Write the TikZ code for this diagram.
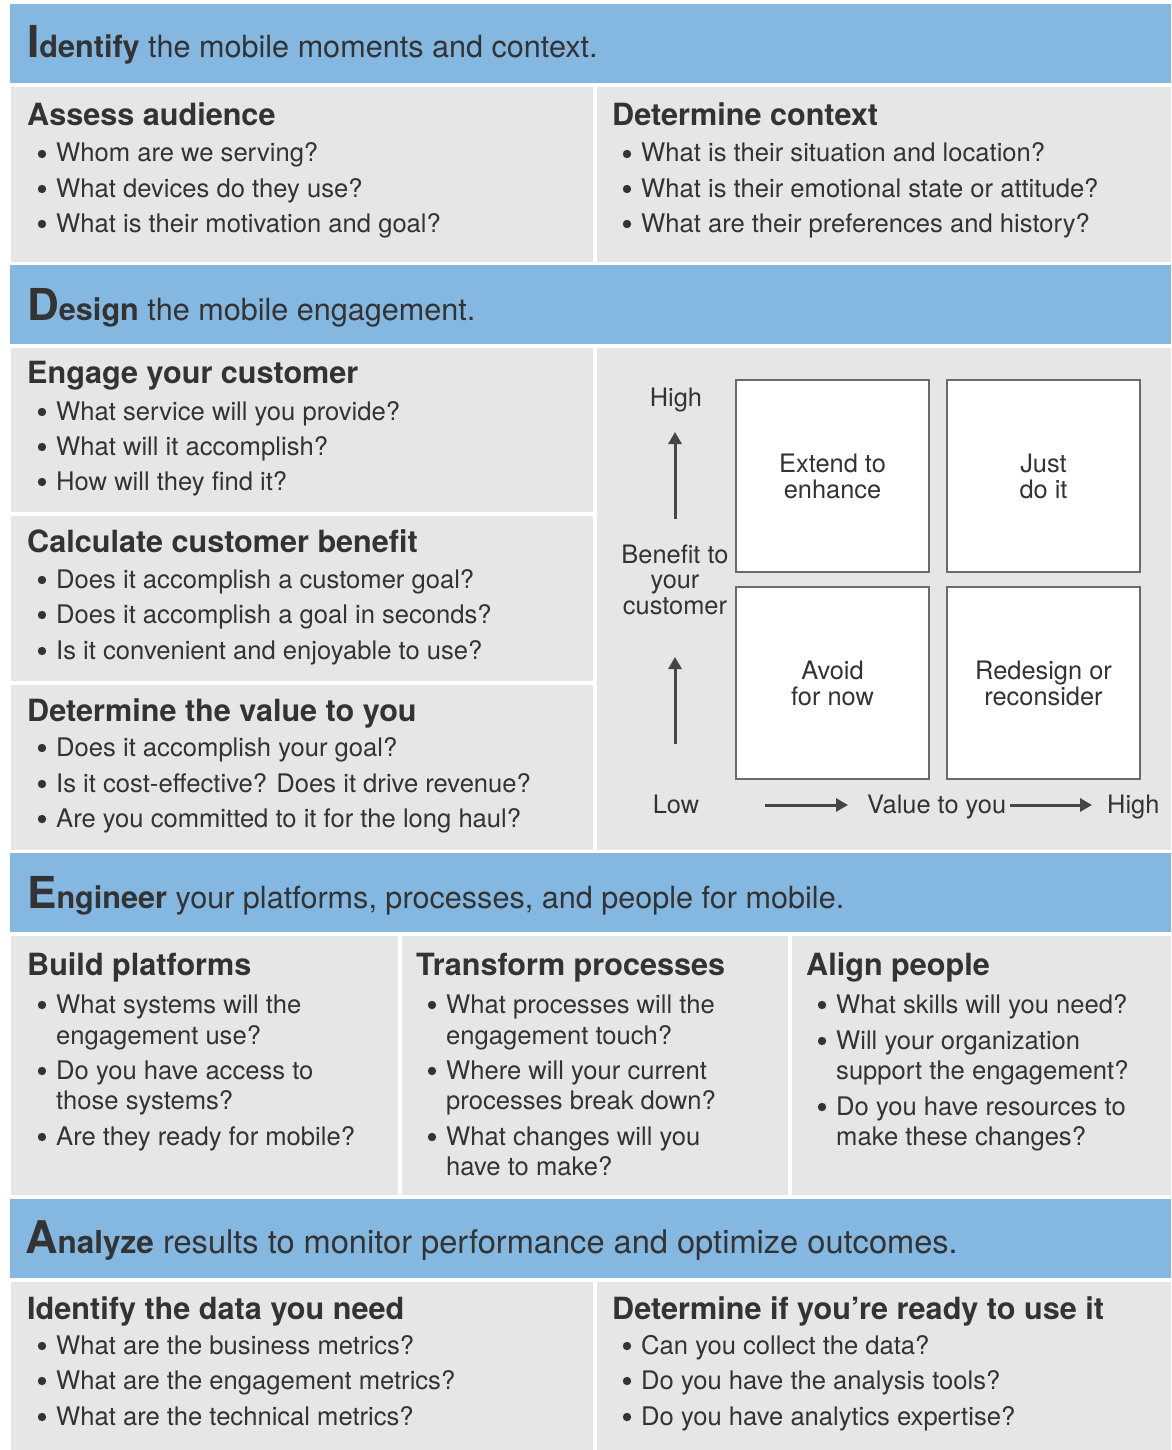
\documentclass[tikz,border=0pt]{standalone}
\usepackage{fontspec}
\setmainfont{TeX Gyre Heros}
\usetikzlibrary{arrows.meta}

\definecolor{bandblue}{HTML}{84B8E0}
\definecolor{panelgray}{HTML}{E6E6E6}
\definecolor{ink}{HTML}{333333}
\definecolor{framegray}{HTML}{6A6A6A}
\definecolor{axisgray}{HTML}{464646}

% large initial letter followed by the rest of the bold word
\newcommand\leadword[2]{{\bfseries\fontsize{44}{44}\selectfont #1\fontsize{30.6}{30.6}\selectfont #2}}
\newcommand\leadwordwide[2]{{\bfseries\fontsize{45}{45}\selectfont #1\fontsize{31.5}{31.5}\selectfont #2}}
% item node with a round bullet hung to its left
\newcommand\bulletitem[4]{%
  \node[itm] (#1) at (#2,#3) {#4};
  \fill[ink] ([shift={(-14pt,8pt)}]#1.base west) circle[radius=4.2pt];}

\tikzset{
  band/.style={fill=bandblue},
  panel/.style={fill=panelgray},
  hdr/.style={anchor=base west, inner sep=0pt, text=ink, font=\fontsize{30.6}{30.6}\selectfont},
  hdrwide/.style={hdr, font=\fontsize{32.6}{32.6}\selectfont},
  ttl/.style={anchor=base west, inner sep=0pt, text=ink, font=\fontsize{30.6}{30.6}\selectfont\bfseries},
  itm/.style={anchor=base west, inner sep=0pt, text=ink, font=\fontsize{25.6}{25.6}\selectfont},
  quad/.style={draw=framegray, line width=1.3pt, fill=white, minimum width=193, minimum height=192,
    inner sep=0pt, align=center, text=ink, font=\fontsize{25.4}{26}\selectfont},
  axislabel/.style={anchor=base, inner sep=0pt, text=ink, font=\fontsize{25.4}{26}\selectfont},
  axisarrow/.style={draw=axisgray, line width=3pt, -{Triangle[length=12pt, width=13pt]}}
}

\begin{document}
\begin{tikzpicture}[x=1pt, y=-1pt]
\useasboundingbox (0,0) rectangle (1171,1450);
\fill[white] (0,0) rectangle (1171,1450);

% blue section bands
\fill[band] (10,4)    rectangle (1171,83);
\fill[band] (10,265)  rectangle (1171,344);
\fill[band] (10,853)  rectangle (1171,932);
\fill[band] (10,1199) rectangle (1171,1278);

% gray panels
\fill[panel] (11,87)   rectangle (593,262);
\fill[panel] (597,87)  rectangle (1171,262);
\fill[panel] (11,348)  rectangle (593,512);
\fill[panel] (11,516)  rectangle (593,681);
\fill[panel] (11,685)  rectangle (593,850);
\fill[panel] (597,348) rectangle (1171,850);
\fill[panel] (11,936)  rectangle (398,1195);
\fill[panel] (402,936) rectangle (788,1195);
\fill[panel] (792,936) rectangle (1171,1195);
\fill[panel] (11,1282) rectangle (593,1450);
\fill[panel] (597,1282) rectangle (1171,1450);

% section headers
\node[hdr] (hIdentify) at (27,58)   {\leadword{I}{dentify} the mobile moments and context.};
\node[hdr] (hDesign)   at (27,320)  {\leadword{D}{esign} the mobile engagement.};
\node[hdr] (hEngineer) at (27,908)  {\leadword{E}{ngineer} your platforms, processes, and people for mobile.};
\node[hdrwide] (hAnalyze) at (25,1253) {\leadwordwide{A}{nalyze} results to monitor performance and optimize outcomes.};

% Identify: audience
\node[ttl] (tAud) at (27,126) {Assess audience};
\bulletitem{aud1}{56}{162}{Whom are we serving?}
\bulletitem{aud2}{56}{197}{What devices do they use?}
\bulletitem{aud3}{56}{232}{What is their motivation and goal?}

% Identify: context
\node[ttl] (tCtx) at (612,126) {Determine context};
\bulletitem{ctx1}{641}{162}{What is their situation and location?}
\bulletitem{ctx2}{641}{197}{What is their emotional state or attitude?}
\bulletitem{ctx3}{641}{232}{What are their preferences and history?}

% Design: engage
\node[ttl] (tEng) at (27,383) {Engage your customer};
\bulletitem{eng1}{56}{420}{What service will you provide?}
\bulletitem{eng2}{56}{455}{What will it accomplish?}
\bulletitem{eng3}{56}{490}{How will they find it?}

% Design: benefit
\node[ttl] (tBen) at (27,552) {Calculate customer benefit};
\bulletitem{ben1}{56}{588}{Does it accomplish a customer goal?}
\bulletitem{ben2}{56}{623}{Does it accomplish a goal in seconds?}
\bulletitem{ben3}{56}{659}{Is it convenient and enjoyable to use?}

% Design: value
\node[ttl] (tVal) at (27,721) {Determine the value to you};
\bulletitem{val1}{56}{756}{Does it accomplish your goal?}
\bulletitem{val2}{56}{792}{Is it cost-effective? Does it drive revenue?}
\bulletitem{val3}{56}{827}{Are you committed to it for the long haul?}

% Design: benefit/value matrix
\node[quad] (q11) at (832.5,476) {Extend to\\enhance};
\node[quad] (q12) at (1043.5,476) {Just\\do it};
\node[quad] (q21) at (832.5,683) {Avoid\\for now};
\node[quad] (q22) at (1043.5,683) {Redesign or\\reconsider};

\node[axislabel] (yHigh) at (676,406) {High};
\node[axislabel] (yLab1) at (675,563) {Benefit to};
\node[axislabel] (yLab2) at (675,588) {your};
\node[axislabel] (yLab3) at (675,614) {customer};
\node[axislabel] (xLow)  at (676,813) {Low};
\node[axislabel, anchor=base west] (xLab)  at (867,813) {Value to you};
\node[axislabel, anchor=base west] (xHigh) at (1107,813) {High};

\coordinate (up1s) at (675,519);
\coordinate (up1e) at (675,432);
\coordinate (up2s) at (675,744);
\coordinate (up2e) at (675,657);
\coordinate (rt1s) at (765,805);
\coordinate (rt1e) at (848,805);
\coordinate (rt2s) at (1010,805);
\coordinate (rt2e) at (1092,805);
\draw[axisarrow] (up1s) -- (up1e);
\draw[axisarrow] (up2s) -- (up2e);
\draw[axisarrow] (rt1s) -- (rt1e);
\draw[axisarrow] (rt2s) -- (rt2e);

% Engineer: platforms
\node[ttl] (tPlat) at (27,975) {Build platforms};
\bulletitem{plat1a}{56}{1013}{What systems will the}
\node[itm] (plat1b) at (56,1044) {engagement use?};
\bulletitem{plat2a}{56}{1079}{Do you have access to}
\node[itm] (plat2b) at (56,1109) {those systems?};
\bulletitem{plat3a}{56}{1145}{Are they ready for mobile?}

% Engineer: processes
\node[ttl] (tProc) at (416,975) {Transform processes};
\bulletitem{proc1a}{446}{1013}{What processes will the}
\node[itm] (proc1b) at (446,1044) {engagement touch?};
\bulletitem{proc2a}{446}{1079}{Where will your current}
\node[itm] (proc2b) at (446,1109) {processes break down?};
\bulletitem{proc3a}{446}{1145}{What changes will you}
\node[itm] (proc3b) at (446,1175) {have to make?};

% Engineer: people
\node[ttl] (tPeop) at (806,975) {Align people};
\bulletitem{peop1a}{836}{1013}{What skills will you need?}
\bulletitem{peop2a}{836}{1049}{Will your organization}
\node[itm] (peop2b) at (836,1079) {support the engagement?};
\bulletitem{peop3a}{836}{1115}{Do you have resources to}
\node[itm] (peop3b) at (836,1145) {make these changes?};

% Analyze: data
\node[ttl] (tData) at (27,1319) {Identify the data you need};
\bulletitem{data1}{56}{1354}{What are the business metrics?}
\bulletitem{data2}{56}{1389}{What are the engagement metrics?}
\bulletitem{data3}{56}{1425}{What are the technical metrics?}

% Analyze: readiness
\node[ttl] (tRdy) at (612,1319) {Determine if you’re ready to use it};
\bulletitem{rdy1}{641}{1354}{Can you collect the data?}
\bulletitem{rdy2}{641}{1389}{Do you have the analysis tools?}
\bulletitem{rdy3}{641}{1425}{Do you have analytics expertise?}
\end{tikzpicture}
\end{document}
